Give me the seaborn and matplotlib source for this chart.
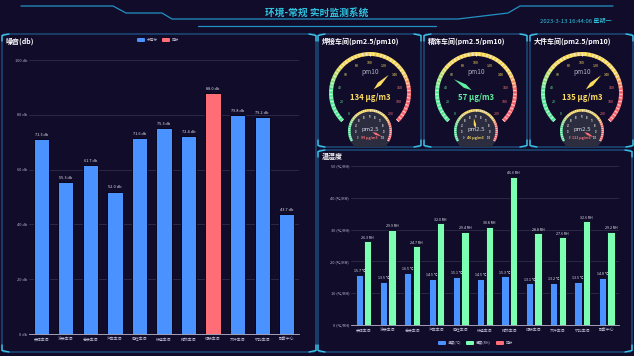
import numpy as np
import pandas as pd
import matplotlib
matplotlib.use("Agg")
import matplotlib.pyplot as plt
import seaborn as sns
from matplotlib.patches import Wedge, FancyBboxPatch, Polygon, Circle
from matplotlib.colors import LinearSegmentedColormap

# ---------------- data ----------------
workshops = ["装焊车间", "涂装车间", "总装车间", "汽车车间", "电控车间", "铸造车间",
             "精饰车间", "焊接车间", "大件车间", "机加车间", "配套中心"]
noise = [71.3, 55.3, 61.7, 52.0, 71.6, 75.3, 72.4, 88.0, 79.8, 79.2, 43.7]
noise_limit = 85
noise_ticks = [0, 20, 40, 60, 80, 100]
temperature = [15.7, 13.5, 16.5, 14.5, 15.1, 14.5, 15.3, 13.1, 13.2, 13.5, 14.8]
humidity = [26.3, 29.9, 24.7, 32.0, 29.4, 30.8, 46.6, 28.8, 27.6, 32.6, 29.2]
env_ticks = [0, 10, 20, 30, 40, 50]
gauge_names = ["焊接车间", "精饰车间", "大件车间"]
pm10 = [134, 57, 135]
pm25 = [99, 46, 111]
pm10_max, pm25_max = 200, 100
pm10_levels = [75, 150]
pm25_levels = [35, 75]
title = "环境-常规 实时监测系统"
date_text = "2023-3-13 16:44:06 星期一"

# ---------------- style ----------------
BG = "#100c2a"
BLUE = "#4992ff"
GREEN = "#7cffb2"
YELLOW = "#fddd60"
RED = "#ff6e76"
CYAN = "#2fc3de"
LABEL = "#b9b8ce"
GRID = "#2b2846"
BORDER = "#1d5a8a"
CORNER = "#3cc4ea"

sns.set_style("dark", {"axes.facecolor": "none", "figure.facecolor": BG})
plt.rcParams["font.family"] = ["Noto Sans CJK SC", "DejaVu Sans"]
plt.rcParams["axes.unicode_minus"] = False

fig = plt.figure(figsize=(6.34, 3.56), dpi=100)
fig.patch.set_facecolor(BG)
ov = fig.add_axes([0, 0, 1, 1], zorder=0)
ov.set_xlim(0, 634)
ov.set_ylim(356, 0)
ov.axis("off")

# ---------------- header ----------------
ov.plot([21, 113, 126, 162, 172, 458, 508, 520, 613],
        [6, 6, 13, 13, 19, 19, 13, 6, 6], color="#2391c4", lw=0.9)
ov.plot([198, 436], [26, 26], color="#2391c4", lw=0.9)
ov.text(317, 12.5, title, ha="center", va="center", fontsize=7, fontweight="bold", color=CYAN)
ov.text(540, 21, date_text, ha="left", va="center", fontsize=4.3, color=CYAN)


def panel(x0, y0, x1, y1, label):
    p = FancyBboxPatch((x0, y0), x1 - x0, y1 - y0, boxstyle="round,pad=0,rounding_size=3",
                       fc="none", ec=BORDER, lw=0.9)
    ov.add_patch(p)
    L = 7
    for (x, y, dx, dy) in [(x0, y0, 1, 1), (x1, y0, -1, 1), (x0, y1, 1, -1), (x1, y1, -1, -1)]:
        ov.plot([x, x, x + dx * L], [y + dy * L, y + dy * 1.5, y], color=CORNER, lw=1.0,
                solid_capstyle="round")
    ov.text(x0 + 4, y0 + 7, label, ha="left", va="center", fontsize=5, fontweight="bold",
            color="white")
    return p


panel(2, 34, 316, 352, "噪音(db)")
gauge_panels = []
for i, nm in enumerate(gauge_names):
    x0 = 318 + i * 106
    gauge_panels.append(panel(x0, 34, x0 + 103, 147, f"{nm}(pm2.5/pm10)"))
panel(318, 150, 632, 352, "温湿度")

# ---------------- noise chart ----------------
status = ["超标" if v > noise_limit else "未超标" for v in noise]
df_noise = pd.DataFrame({"车间": workshops, "噪音": noise, "状态": status})
ax1 = fig.add_axes([29 / 634, 1 - 334 / 356, 270 / 634, 274 / 356], zorder=2)
ax1.set_facecolor("none")
sns.barplot(data=df_noise, x="车间", y="噪音", hue="状态", hue_order=["未超标", "超标"],
            palette={"未超标": BLUE, "超标": RED}, dodge=False, width=0.62, saturation=1,
            edgecolor="#07051a", linewidth=0.7, legend=False, ax=ax1)
for c in ax1.containers:
    ax1.bar_label(c, fmt="%.1f db", fontsize=2.8, color="#e8e8f0", padding=1.5)
ax1.set_xlim(-0.5, len(workshops) - 0.5)
ax1.set_ylim(0, 100)
ax1.set_yticks(noise_ticks)
ax1.set_yticklabels([f"{t} db" for t in noise_ticks])

# ---------------- env chart ----------------
df_env = pd.DataFrame({"车间": workshops * 2, "数值": temperature + humidity,
                       "指标": ["温度(℃)"] * len(workshops) + ["湿度(RH)"] * len(workshops)})
ax2 = fig.add_axes([351.3 / 634, 1 - 325 / 356, 267.5 / 634, 159 / 356], zorder=2)
ax2.set_facecolor("none")
sns.barplot(data=df_env, x="车间", y="数值", hue="指标", palette=[BLUE, GREEN], saturation=1,
            width=0.7, gap=0.15, edgecolor="#07051a", linewidth=0.6, legend=False, ax=ax2)
fmts = ["%.1f ℃", "%.1f RH"]
for c, f in zip(ax2.containers, fmts):
    ax2.bar_label(c, fmt=f, fontsize=2.6, color="#e8e8f0", padding=1.2)
ax2.set_xlim(-0.5, len(workshops) - 0.5)
ax2.set_ylim(0, 50)
ax2.set_yticks(env_ticks)
ax2.set_yticklabels([f"{t} (℃/RH)" for t in env_ticks])

for ax in (ax1, ax2):
    for s in ("left", "top", "right"):
        ax.spines[s].set_visible(False)
    ax.spines["bottom"].set_color(LABEL)
    ax.spines["bottom"].set_linewidth(0.6)
    ax.yaxis.grid(True, color=GRID, lw=0.7)
    ax.xaxis.grid(False)
    ax.set_axisbelow(True)
    ax.set_xlabel("")
    ax.set_ylabel("")
    ax.tick_params(axis="y", length=0, pad=1.5, labelsize=2.8, labelcolor=LABEL)
    ax.tick_params(axis="x", which="major", length=0, pad=2.5, labelsize=2.8, labelcolor=LABEL)
    ax.set_xticks(np.arange(-0.5, len(workshops), 1.0), minor=True)
    ax.tick_params(axis="x", which="minor", length=1.8, width=0.5, color=LABEL, direction="out")

# ---------------- legends ----------------
def legend_item(x, y, color, text):
    ov.add_patch(FancyBboxPatch((x, y - 2), 8, 4, boxstyle="round,pad=0,rounding_size=1",
                                fc=color, ec="none"))
    ov.text(x + 10, y, text, ha="left", va="center", fontsize=2.6, color=LABEL)

legend_item(137, 40, BLUE, "未超标")
legend_item(162, 40, RED, "超标")
legend_item(438, 343, BLUE, "温度(℃)")
legend_item(466, 343, GREEN, "湿度(RH)")
legend_item(496, 343, RED, "超标")

# ---------------- gauges ----------------
cmap = LinearSegmentedColormap.from_list(
    "band", [(0, "#5ef0a0"), (0.18, "#5ef0a0"), (0.33, YELLOW), (0.72, YELLOW),
             (0.82, RED), (1, RED)])


def level_color(v, levels):
    if v <= levels[0]:
        return "#5ef0a0"
    if v <= levels[1]:
        return YELLOW
    return RED


def gauge(cx, cy, r, bw, vmax, value, a0, a1, nminor, step, lab_r, lab_fs, lab_white,
          nlen, nw, ncolor, clip=None, face=None):
    arts = []
    span = a0 - a1
    if face is not None:
        arts.append(ov.add_patch(Circle((cx, cy), r, fc=face, ec="none")))
    n = 100
    for k in range(n):
        t0, t1 = k / n, (k + 1) / n
        aa = a0 - span * t0
        bb = a0 - span * t1
        arts.append(ov.add_patch(Wedge((cx, cy), r, -aa, -bb + 0.4, width=bw,
                                       fc=cmap((t0 + t1) / 2), ec="none")))
    for k in range(nminor + 1):
        a = np.radians(a0 - span * k / nminor)
        r1, r2 = r - bw + 0.5, r - 0.6
        arts += ov.plot([cx + r1 * np.cos(a), cx + r2 * np.cos(a)],
                        [cy - r1 * np.sin(a), cy - r2 * np.sin(a)], color="white", lw=0.45)
    for v in range(0, vmax + 1, step):
        a = np.radians(a0 - span * v / vmax)
        col = "white" if lab_white else cmap(v / vmax)
        arts.append(ov.text(cx + lab_r * np.cos(a), cy - lab_r * np.sin(a), str(v),
                            ha="center", va="center", fontsize=lab_fs, color=col))
    a = np.radians(a0 - span * min(value, vmax) / vmax)
    d = np.array([np.cos(a), -np.sin(a)])
    pp = np.array([np.sin(a), np.cos(a)])
    c = np.array([cx, cy])
    pts = [c + d * nlen * 0.2, c + d * nlen * 0.5 + pp * nw, c + d * nlen, c + d * nlen * 0.5 - pp * nw]
    arts.append(ov.add_patch(Polygon(pts, closed=True, fc=ncolor, ec="none")))
    if clip is not None:
        for art in arts:
            art.set_clip_path(clip)
    return arts


for i in range(len(gauge_names)):
    cx = 370 + i * 106
    cy = 93
    col10 = level_color(pm10[i], pm10_levels)
    gauge(cx, cy, 41, 4, pm10_max, pm10[i], 225, -45, 50, 20, 30, 2.6, False, 26, 2.0, col10)
    ov.text(cx, 72, "pm10", ha="center", va="center", fontsize=4.8, color="#a9a9b8")
    ov.text(cx, 97, f"{pm10[i]} μg/m3", ha="center", va="center", fontsize=5.6,
            fontweight="bold", color=col10)
    col25 = level_color(pm25[i], pm25_levels)
    gauge(cx, 131, 22, 2.6, pm25_max, pm25[i], 208, -28, 40, 10, 14, 1.8, True, 13, 1.2,
          col25, clip=gauge_panels[i], face="#2c2d3f")
    ov.text(cx, 129, "pm2.5", ha="center", va="center", fontsize=4.3, color="#d8d8e0")
    ov.text(cx - 1, 137.5, f"{pm25[i]} μg/m3", ha="center", va="center", fontsize=2.6,
            fontweight="bold", color=col25)

fig.savefig("out.png", dpi=100, facecolor=BG)
